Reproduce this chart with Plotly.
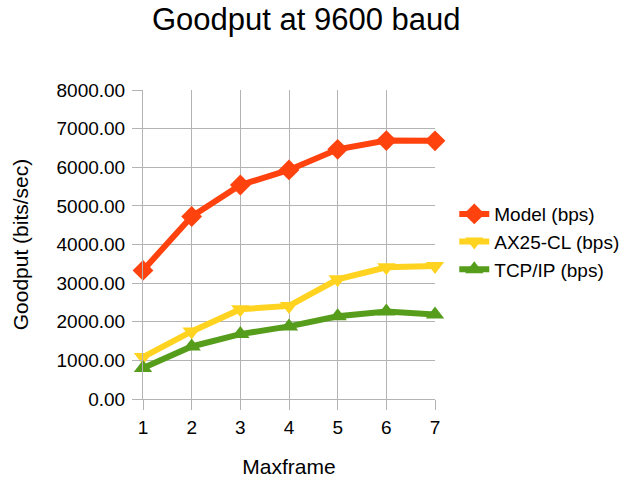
import plotly.graph_objects as go

maxframe = [1, 2, 3, 4, 5, 6, 7]
model_bps = [3330, 4725, 5540, 5930, 6465, 6690, 6685]
ax25_bps = [1085, 1750, 2325, 2410, 3100, 3410, 3445]
tcpip_bps = [805, 1360, 1680, 1880, 2140, 2265, 2185]

series = [
    ("Model (bps)", model_bps, "#FF420E", "diamond"),
    ("AX25-CL (bps)", ax25_bps, "#FFD320", "triangle-down"),
    ("TCP/IP (bps)", tcpip_bps, "#579D1C", "triangle-up"),
]

fig = go.Figure()
for name, vals, color, sym in series:
    fig.add_trace(go.Scatter(
        x=maxframe, y=vals, name=name, mode="lines+markers",
        line=dict(color=color, width=6),
        marker=dict(color=color, symbol=sym, size=16),
        cliponaxis=False,
    ))

font = "Liberation Sans, Arial, sans-serif"
fig.update_layout(
    width=634, height=478,
    margin=dict(l=143, r=199, t=90, b=79, autoexpand=False),
    paper_bgcolor="white", plot_bgcolor="white",
    font=dict(family=font, size=19, color="black"),
    title=dict(text="Goodput at 9600 baud", x=0.483, xanchor="center",
               xref="container", yref="container",
               y=1 - 19 / 478, yanchor="middle", font=dict(size=31, family=font)),
    showlegend=True,
    legend=dict(x=1.066, xanchor="left", y=0.508, yanchor="middle",
                font=dict(size=19), itemwidth=30, tracegroupgap=0,
                bgcolor="rgba(0,0,0,0)"),
    xaxis=dict(range=[1, 7], tickvals=maxframe, ticks="outside", ticklen=10,
               tickcolor="#b3b3b3", showgrid=True, gridcolor="#b3b3b3",
               linecolor="#b3b3b3", showline=True, zeroline=False,
               ticklabelstandoff=1,
               title=dict(text="Maxframe", font=dict(size=21), standoff=22),
               automargin=False),
    yaxis=dict(range=[0, 8000], dtick=1000, tickformat=".2f", ticks="outside",
               ticklen=10, tickcolor="#b3b3b3", showgrid=True,
               gridcolor="#b3b3b3", linecolor="#b3b3b3", showline=True,
               zeroline=False, ticklabelstandoff=3, automargin=False,
               title=dict(text="Goodput (bits/sec)", font=dict(size=21), standoff=22)),
)
fig.write_html("out.html", config={"displayModeBar": False},
               post_script="document.body.style.margin='0';document.body.style.padding='0';")
